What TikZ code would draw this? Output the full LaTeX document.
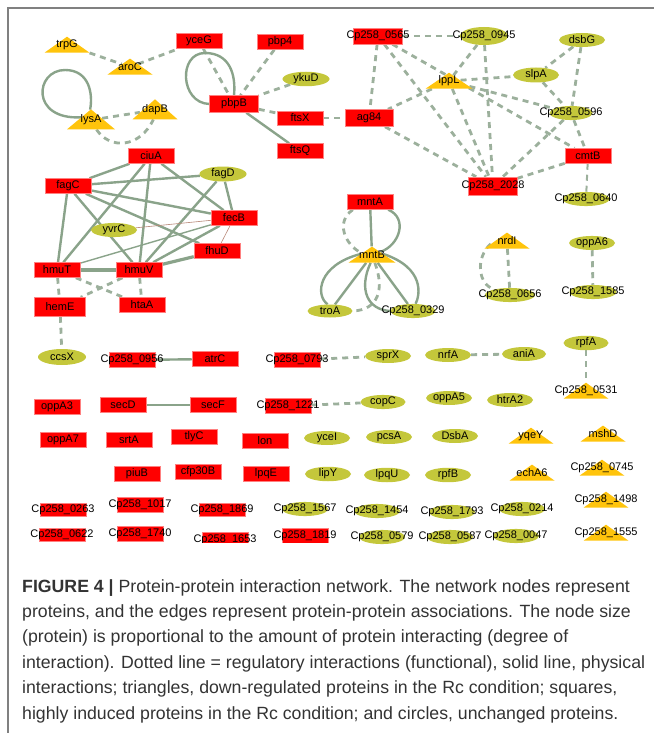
\documentclass[tikz,border=0pt]{standalone}
\usepackage{fontspec}
\setmainfont{Liberation Sans}
\usetikzlibrary{shapes.geometric,backgrounds}
\definecolor{induced}{HTML}{FF0000}
\definecolor{inducedrim}{HTML}{FF8080}
\definecolor{unchanged}{HTML}{C4C73B}
\definecolor{downreg}{HTML}{FFC40C}
\definecolor{physline}{HTML}{8AA38A}
\definecolor{funcline}{HTML}{9CB09C}
\definecolor{weakline}{HTML}{B88878}
\definecolor{frameline}{HTML}{808080}
\definecolor{captext}{HTML}{333333}
\newcommand{\pn}[1]{\makebox[0pt]{#1}}

\begin{document}
\begin{tikzpicture}[x=1pt,y=-1pt,
  font=\fontsize{11}{12}\selectfont,
  gene/.style={rectangle,fill=induced,draw=inducedrim,line width=0.5pt,
               minimum width=46pt,minimum height=15pt,inner sep=0pt},
  unch/.style={ellipse,fill=unchanged,minimum width=46pt,minimum height=14pt,inner sep=0pt},
  down/.style={isosceles triangle,isosceles triangle stretches,shape border rotate=90,
               fill=downreg,minimum width=45pt,minimum height=16pt,inner sep=0pt},
  phys/.style={draw=physline,line width=2.4pt},
  func/.style={draw=funcline,line width=2.8pt,dash pattern=on 6pt off 5pt},
  weak/.style={draw=weakline,line width=0.6pt}
]
  \useasboundingbox (0,0) rectangle (654,733);
  \draw[frameline,line width=1.2pt] (8,733) -- (8,8) -- (654,8);

  % induced proteins (squares)
  \node[gene] (yceG) at (199,41) {\pn{yceG}};
  \node[gene] (pbp4) at (280,42) {\pn{pbp4}};
  \node[gene,minimum width=49pt,minimum height=17pt] (pbpB) at (234,104) {\pn{pbpB}};
  \node[gene,minimum height=14pt] (ftsX) at (300,118) {\pn{ftsX}};
  \node[gene] (ftsQ) at (300,151) {\pn{ftsQ}};
  \node[gene] (ciuA) at (151,156) {\pn{ciuA}};
  \node[gene] (fagC) at (68,186) {\pn{fagC}};
  \node[gene] (fecB) at (234,218) {\pn{fecB}};
  \node[gene] (fhuD) at (217,251) {\pn{fhuD}};
  \node[gene] (hmuT) at (57,270) {\pn{hmuT}};
  \node[gene] (hmuV) at (139,270) {\pn{hmuV}};
  \node[gene,minimum width=51pt,minimum height=19pt] (hemE) at (60,307) {\pn{hemE}};
  \node[gene] (htaA) at (142,305) {\pn{htaA}};
  \node[gene,minimum width=49pt,minimum height=16pt] (c0565) at (378,36) {\pn{Cp258\_0565}};
  \node[gene,minimum width=48pt,minimum height=17pt] (ag84) at (369,118) {\pn{ag84}};
  \node[gene] (cmtB) at (588,156) {\pn{cmtB}};
  \node[gene,minimum width=49pt,minimum height=18pt] (c2028) at (493,186) {\pn{Cp258\_2028}};
  \node[gene] (mntA) at (370,202) {\pn{mntA}};
  \node[gene] (c0956) at (132,360) {\pn{Cp258\_0956}};
  \node[gene] (atrC) at (215,359) {\pn{atrC}};
  \node[gene] (c0793) at (297,360) {\pn{Cp258\_0793}};
  \node[gene] (oppA3) at (57,407) {\pn{oppA3}};
  \node[gene] (secD) at (123,405) {\pn{secD}};
  \node[gene] (secF) at (213,405) {\pn{secF}};
  \node[gene] (c1221) at (288,406) {\pn{Cp258\_1221}};
  \node[gene] (oppA7) at (63,440) {\pn{oppA7}};
  \node[gene] (srtA) at (129,440) {\pn{srtA}};
  \node[gene] (tlyC) at (194,437) {\pn{tlyC}};
  \node[gene] (lon) at (265,441) {\pn{lon}};
  \node[gene] (piuB) at (137,474) {\pn{piuB}};
  \node[gene] (cfp30B) at (198,472) {\pn{cfp30B}};
  \node[gene] (lpqE) at (266,474) {\pn{lpqE}};
  \node[gene,minimum height=13pt] (c0263) at (63,510) {\pn{Cp258\_0263}};
  \node[gene] (c1017) at (140,505) {\pn{Cp258\_1017}};
  \node[gene,minimum height=13pt] (c1869) at (222,510) {\pn{Cp258\_1869}};
  \begin{scope}
    \clip (8,8) rectangle (654,542);
    \node[gene,minimum height=13pt] (c0622) at (62,535) {\pn{Cp258\_0622}};
    \node[gene] (c1740) at (140,534) {\pn{Cp258\_1740}};
    \node[gene] (c1653) at (225,540) {\pn{Cp258\_1653}};
    \node[gene] (c1819) at (305,536) {\pn{Cp258\_1819}};
  \end{scope}

  % unchanged proteins (circles)
  \node[unch,minimum width=47pt] (ykuD) at (306,79) {\pn{ykuD}};
  \node[unch,minimum width=47pt,minimum height=15pt] (fagD) at (223,174) {\pn{fagD}};
  \node[unch] (yvrC) at (114,230) {\pn{yvrC}};
  \node[unch,minimum width=48pt,minimum height=16pt] (ccsX) at (62,357) {\pn{ccsX}};
  \node[unch,minimum width=48pt,minimum height=18pt] (c0945) at (484,36) {\pn{Cp258\_0945}};
  \node[unch] (dsbG) at (582,40) {\pn{dsbG}};
  \node[unch,minimum height=15pt] (slpA) at (536,75) {\pn{slpA}};
  \node[unch,minimum width=43pt,minimum height=13pt] (c0596) at (571,113) {\pn{Cp258\_0596}};
  \node[unch,minimum width=47pt,minimum height=12pt] (c0640) at (586,199) {\pn{Cp258\_0640}};
  \node[unch,minimum width=45pt,minimum height=13pt] (troA) at (330,311) {\pn{troA}};
  \node[unch,minimum width=45pt,minimum height=13pt] (c0329) at (413,311) {\pn{Cp258\_0329}};
  \node[unch,minimum width=50pt] (c0656) at (510,295) {\pn{Cp258\_0656}};
  \node[unch] (oppA6) at (592,243) {\pn{oppA6}};
  \node[unch,minimum width=47pt,minimum height=12pt] (c1585) at (593,292) {\pn{Cp258\_1585}};
  \node[unch] (sprX) at (388,356) {\pn{sprX}};
  \node[unch] (nrfA) at (448,355) {\pn{nrfA}};
  \node[unch,minimum width=44pt] (aniA) at (524,354) {\pn{aniA}};
  \node[unch,minimum width=45pt,minimum height=12pt] (rpfA) at (586,343) {\pn{rpfA}};
  \node[unch,minimum width=45pt,minimum height=12pt] (copC) at (383,402) {\pn{copC}};
  \node[unch] (oppA5) at (449,398) {\pn{oppA5}};
  \node[unch] (htrA2) at (510,400) {\pn{htrA2}};
  \node[unch] (yceI) at (327,438) {\pn{yceI}};
  \node[unch] (pcsA) at (389,437) {\pn{pcsA}};
  \node[unch] (DsbA) at (455,436) {\pn{DsbA}};
  \node[unch] (lipY) at (328,474) {\pn{lipY}};
  \node[unch] (lpqU) at (387,475) {\pn{lpqU}};
  \node[unch] (rpfB) at (448,475) {\pn{rpfB}};
  \node[unch] (c1567) at (305,509) {\pn{Cp258\_1567}};
  \node[unch] (c1454) at (377,511) {\pn{Cp258\_1454}};
  \node[unch] (c1793) at (452,512) {\pn{Cp258\_1793}};
  \node[unch] (c0214) at (522,509) {\pn{Cp258\_0214}};
  \node[unch] (c0579) at (382,537) {\pn{Cp258\_0579}};
  \node[unch] (c0587) at (450,537) {\pn{Cp258\_0587}};
  \node[unch] (c0047) at (516,536) {\pn{Cp258\_0047}};

  % down-regulated proteins (triangles)
  \node[down] (trpG) at (67,45) {\pn{trpG}};
  \node[down] (aroC) at (130,67) {\pn{aroC}};
  \node[down,minimum width=48pt,minimum height=20pt] (lysA) at (91,120) {\pn{lysA}};
  \node[down,minimum height=20pt] (dapB) at (155,110) {\pn{dapB}};
  \node[down,minimum width=47pt] (lppL) at (449,81) {\pn{lppL}};
  \node[down,minimum width=47pt] (mntB) at (372,255) {\pn{mntB}};
  \node[down] (nrdI) at (507,241) {\pn{nrdI}};
  \node[down] (c0531) at (586,391) {\pn{Cp258\_0531}};
  \node[down] (yqeY) at (531,436) {\pn{yqeY}};
  \node[down] (mshD) at (603,434) {\pn{mshD}};
  \node[down] (echA6) at (532,473) {\pn{echA6}};
  \node[down] (c0745) at (602,468) {\pn{Cp258\_0745}};
  \node[down] (c1498) at (606,500) {\pn{Cp258\_1498}};
  \node[down] (c1555) at (606,533) {\pn{Cp258\_1555}};

  \begin{scope}[on background layer]
    % regulatory (dotted) interactions
    \draw[func] (trpG) -- (aroC);
    \draw[func] (aroC) -- (yceG);
    \draw[func] (lysA) -- (dapB);
    \draw[func] (lysA.-60) .. controls (110,150) and (140,148) .. (dapB.-100);
    \draw[func] (yceG) -- (pbpB);
    \draw[func] (pbp4) -- (pbpB);
    \draw[func] (ykuD) -- (pbpB);
    \draw[func] (pbpB) -- (ftsX);
    \draw[func] (ftsX) -- (ag84);
    \draw[func] (c0565) -- (c0945);
    \draw[func] (c0565) -- (ag84);
    \draw[func] (c0565) -- (c2028);
    \draw[func] (c0565) -- (cmtB);
    \draw[func] (c0945) -- (lppL);
    \draw[func] (c0945) -- (c2028);
    \draw[func] (lppL) -- (ag84);
    \draw[func] (lppL) -- (slpA);
    \draw[func] (lppL) -- (c2028);
    \draw[func] (lppL) -- (c0596);
    \draw[func] (dsbG) -- (slpA);
    \draw[func] (dsbG) -- (c0596);
    \draw[func] (slpA) -- (c0596);
    \draw[func] (c0596) -- (cmtB);
    \draw[func] (c0596) -- (c2028);
    \draw[func] (ag84) -- (c2028);
    \draw[func] (cmtB) -- (c2028);
    \draw[func,line width=2pt] (cmtB) -- (c0640);
    \draw[func] (hmuT) -- (hemE);
    \draw[func] (hmuV) -- (hemE);
    \draw[func] (hmuT) -- (htaA);
    \draw[func] (hmuV) -- (htaA);
    \draw[func] (hemE) -- (ccsX);
    \draw[func] ([xshift=6pt]mntA.south west) .. controls (335,222) and (345,245) .. (mntB.170);
    \draw[func] (mntB.-70) .. controls (385,290) and (378,310) .. (troA.east);
    \draw[func] (nrdI) -- (c0656);
    \draw[func] (nrdI.190) .. controls (475,258) and (478,285) .. (c0656.160);
    \draw[func] (oppA6) -- (c1585);
    \draw[func] (c0793) -- (sprX);
    \draw[func] (nrfA) -- (aniA);
    \draw[func] (rpfA) -- (c0531);
    \draw[func] (c1221) -- (copC);
    % physical (solid) interactions
    \draw[phys] (lysA.165) .. controls (30,120) and (35,70) .. (65,70)
                .. controls (90,70) and (93,95) .. (lysA.95);
    \draw[phys] (pbpB.west) .. controls (180,103) and (178,53) .. (205,53)
                .. controls (230,53) and (236,75) .. (pbpB.north);
    \draw[phys] (pbpB) -- (ftsQ);
    \draw[phys] (ciuA) -- (fagC);
    \draw[phys] (ciuA) -- (hmuT);
    \draw[phys] (ciuA) -- (hmuV);
    \draw[phys] (ciuA) -- (fecB);
    \draw[phys] (fagC) -- (fagD);
    \draw[phys] (fagC) -- (fecB);
    \draw[phys] (fagC) -- (fhuD);
    \draw[phys] (fagC) -- (hmuT);
    \draw[phys] (fagC) -- (hmuV);
    \draw[phys] (fagD) -- (fecB);
    \draw[phys] (fagD) -- (hmuV);
    \draw[phys] (fecB) -- (hmuV);
    \draw[phys,line width=1.4pt] (fecB) -- (hmuT);
    \draw[phys,line width=3.2pt] (fhuD) -- (hmuV);
    \draw[phys,line width=3.2pt] (hmuT) -- (hmuV);
    \draw[weak] (yvrC) -- (fecB);
    \draw[weak] (fecB) -- (fhuD);
    \draw[phys] (mntA) -- (mntB);
    \draw[phys] ([xshift=-5pt]mntA.south east) .. controls (408,218) and (400,245) .. (mntB.20);
    \draw[phys] (mntB) -- (troA);
    \draw[phys] (mntB.175) .. controls (318,265) and (315,295) .. (troA.110);
    \draw[phys] (mntB) -- (c0329);
    \draw[phys] (mntB.5) .. controls (425,268) and (420,295) .. (c0329.70);
    \draw[phys] (mntB.-100) .. controls (358,290) and (368,310) .. (c0329.west);
    \draw[phys] (c0956) -- (atrC);
    \draw[phys] (secD) -- (secF);
  \end{scope}

  \node[anchor=north west,align=left,inner sep=0pt,text=captext,
        font=\fontsize{17.7}{25.4}\selectfont] (caption) at (22,579)
    {\textbf{FIGURE 4 |} Protein-protein interaction network. The network nodes represent\\
     proteins, and the edges represent protein-protein associations. The node size\\
     (protein) is proportional to the amount of protein interacting (degree of\\
     interaction). Dotted line = regulatory interactions (functional), solid line, physical\\
     interactions; triangles, down-regulated proteins in the Rc condition; squares,\\
     highly induced proteins in the Rc condition; and circles, unchanged proteins.};
\end{tikzpicture}
\end{document}
